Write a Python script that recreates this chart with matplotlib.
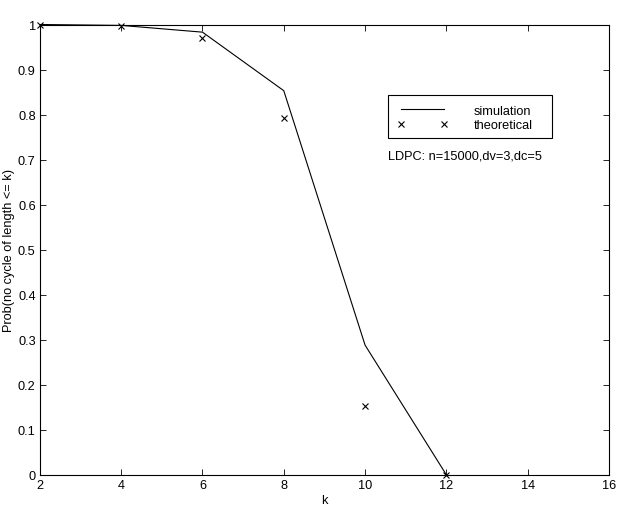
import matplotlib
matplotlib.use('Agg')
import matplotlib.pyplot as plt
from matplotlib.patches import Rectangle

plt.rcParams['font.family'] = ['Liberation Sans', 'DejaVu Sans']

# cycle length k
k = [2, 4, 6, 8, 10, 12]
simulation = [1.0, 0.998, 0.983, 0.853, 0.288, 0.0]
theoretical = [1.0, 0.996, 0.971, 0.792, 0.153, 0.0]

xticks = [2, 4, 6, 8, 10, 12, 14, 16]
yticks = [0, 0.1, 0.2, 0.3, 0.4, 0.5, 0.6, 0.7, 0.8, 0.9, 1]
ytick_labels = ['0', '0.1', '0.2', '0.3', '0.4', '0.5', '0.6', '0.7', '0.8', '0.9', '1']

fs = 9.2

fig = plt.figure(figsize=(6.23, 5.10), dpi=100)
ax = fig.add_axes([0.064, 0.067, 0.9135, 0.883])

ax.plot(k, simulation, color='black', linewidth=0.8, label='simulation', clip_on=False)
ax.plot(k, theoretical, linestyle='none', marker='x', color='black',
        markersize=5, markeredgewidth=0.8, label='theoretical', clip_on=False)

ax.set_xlim(2, 16)
ax.set_ylim(0, 1)
ax.set_xticks(xticks)
ax.set_yticks(yticks)
ax.set_yticklabels(ytick_labels)
ax.tick_params(direction='in', top=True, right=True, labelsize=fs, length=4, width=0.6, pad=3)
for s in ax.spines.values():
    s.set_linewidth(0.8)

ax.set_xlabel('k', fontsize=fs, labelpad=2)
ax.set_ylabel('Prob(no cycle of length <= k)', fontsize=fs, labelpad=2)

# legend box drawn separately (matlab style, extra room on the right)
ax.add_patch(Rectangle((0.6116, 0.748), 0.2882, 0.096, transform=ax.transAxes,
                       fill=True, facecolor='white', edgecolor='black',
                       linewidth=0.8, zorder=4, clip_on=False))
leg = ax.legend(loc='upper left', bbox_to_anchor=(0.627, 0.822), fontsize=fs,
                frameon=False, numpoints=2, handlelength=4.0, handletextpad=2.0,
                borderpad=0, borderaxespad=0, labelspacing=0.2)
leg.set_zorder(5)

ax.text(10.56, 0.708, 'LDPC: n=15000,dv=3,dc=5', fontsize=fs, va='center', ha='left')

fig.savefig('out.png', dpi=100)
